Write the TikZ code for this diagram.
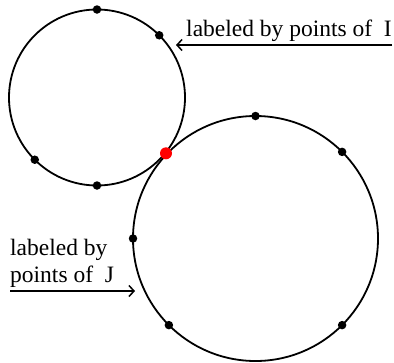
\documentclass[tikz,border=0pt]{standalone}
\usepackage{fontspec}
\setmainfont{Liberation Serif}
\usetikzlibrary{arrows.meta,calc}
\tikzset{
  ring/.style={draw, line width=1.8pt},
  dotpt/.style={circle, fill=black, inner sep=0pt, minimum size=8.5pt},
  meetpt/.style={circle, fill=red, inner sep=0pt, minimum size=12pt},
  lbl/.style={font=\fontsize{23.5}{27}\selectfont, inner sep=0pt},
  ptr/.style={-{Straight Barb[length=5pt,width=11pt,line width=1.5pt]}, line width=1.5pt}
}

\begin{document}
\begin{tikzpicture}[x=1pt, y=-1pt]
\useasboundingbox (0,0) rectangle (394,362);
% the two circles
\coordinate (ci) at (97,97.5);
\coordinate (cj) at (255.5,238.5);
\draw[ring] (ci) circle[radius=88pt];
\draw[ring] (cj) circle[radius=122.5pt];
% points on I
\foreach \a [count=\i] in {90,45,225,270}
  \node[dotpt] (i\i) at ($(ci)+(\a:88pt)$) {};
% points on J
\foreach \a [count=\j] in {90,45,180,225,315}
  \node[dotpt] (j\j) at ($(cj)+(\a:122.5pt)$) {};
\node[meetpt] (meet) at (166,153.3) {};
% labels
\node[lbl, anchor=base east] (labI) at (392,36) {labeled by points of\ \ I};
\node[lbl, anchor=base west, align=left] (labJ) at (10,282.5) {labeled by\\points of\ \ J};
\coordinate (tipI) at (176,45);
\coordinate (tipJ) at (135,291);
\draw[ptr] (labI.east |- tipI) -- (tipI);
\draw[ptr] (labJ.west |- tipJ) -- (tipJ);
\end{tikzpicture}
\end{document}
